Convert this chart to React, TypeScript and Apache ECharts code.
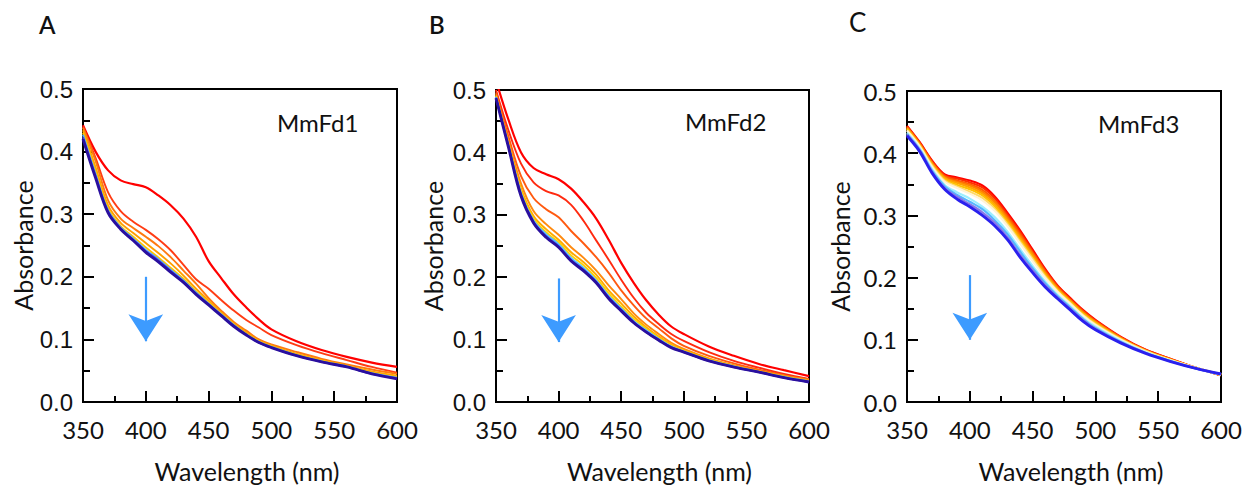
import React, { useEffect, useRef } from "react";
import * as echarts from "echarts";

const wavelengths = [350, 360, 370, 380, 390, 400, 410, 420, 430, 440, 450, 460, 470, 480, 490, 500, 520, 540, 560, 580, 600];

const panelLetters = ["A", "B", "C"];
const sampleNames = ["MmFd1", "MmFd2", "MmFd3"];
const xTickValues = [350, 400, 450, 500, 550, 600];
const yTickValues = [0.0, 0.1, 0.2, 0.3, 0.4, 0.5];

// Panel A (MmFd1)
const aColors = ["#ff0000", "#ff3c14", "#ff7a10", "#ffa000", "#ffc400", "#4aa8ff", "#4b3fd9", "#2a0f9e"];
const aRed = [0.442, 0.4, 0.37, 0.354, 0.348, 0.343, 0.33, 0.314, 0.293, 0.264, 0.225, 0.198, 0.172, 0.151, 0.132, 0.116, 0.097, 0.083, 0.072, 0.063, 0.056];
const aOrangeRed = [0.44, 0.39, 0.335, 0.305, 0.288, 0.275, 0.26, 0.242, 0.219, 0.196, 0.181, 0.163, 0.146, 0.131, 0.119, 0.107, 0.091, 0.078, 0.067, 0.056, 0.047];
const aOrange = [0.438, 0.385, 0.322, 0.293, 0.278, 0.264, 0.249, 0.231, 0.21, 0.189, 0.166, 0.146, 0.128, 0.114, 0.1, 0.092, 0.08, 0.069, 0.06, 0.052, 0.045];
const aLightOrange = [0.434, 0.375, 0.314, 0.286, 0.27, 0.254, 0.238, 0.221, 0.202, 0.181, 0.162, 0.143, 0.126, 0.111, 0.098, 0.09, 0.077, 0.067, 0.058, 0.049, 0.042];
const aGold = [0.43, 0.368, 0.309, 0.281, 0.264, 0.247, 0.231, 0.214, 0.197, 0.177, 0.159, 0.141, 0.124, 0.109, 0.097, 0.089, 0.076, 0.066, 0.057, 0.047, 0.04];
const aSky = [0.427, 0.364, 0.306, 0.279, 0.261, 0.243, 0.228, 0.211, 0.194, 0.175, 0.157, 0.14, 0.123, 0.108, 0.096, 0.088, 0.075, 0.065, 0.057, 0.046, 0.039];
const aPurple = [0.423, 0.361, 0.304, 0.277, 0.259, 0.241, 0.226, 0.209, 0.192, 0.173, 0.156, 0.139, 0.122, 0.107, 0.095, 0.087, 0.074, 0.064, 0.056, 0.045, 0.038];
const aNavy = [0.42, 0.358, 0.302, 0.276, 0.258, 0.239, 0.224, 0.207, 0.191, 0.172, 0.155, 0.138, 0.121, 0.107, 0.095, 0.087, 0.074, 0.064, 0.056, 0.045, 0.037];

// Panel B (MmFd2)
const bColors = ["#ff0000", "#ff2a10", "#ff5a10", "#ff8a10", "#ffaa00", "#ffd000", "#58c0ff", "#3a6cff", "#5a2fd0", "#2a0f9e"];
const bRed = [0.515, 0.452, 0.4, 0.375, 0.365, 0.357, 0.342, 0.32, 0.294, 0.26, 0.223, 0.191, 0.163, 0.14, 0.121, 0.109, 0.089, 0.074, 0.061, 0.051, 0.0415];
const bRedOrange = [0.5, 0.435, 0.382, 0.352, 0.338, 0.331, 0.316, 0.29, 0.259, 0.228, 0.196, 0.167, 0.143, 0.125, 0.109, 0.098, 0.08, 0.066, 0.055, 0.045, 0.037];
const bOrangeRed = [0.496, 0.425, 0.362, 0.327, 0.309, 0.296, 0.274, 0.254, 0.232, 0.207, 0.179, 0.155, 0.134, 0.118, 0.102, 0.09, 0.074, 0.062, 0.052, 0.043, 0.036];
const bOrange = [0.493, 0.418, 0.35, 0.306, 0.285, 0.268, 0.248, 0.231, 0.211, 0.187, 0.165, 0.142, 0.124, 0.109, 0.095, 0.085, 0.07, 0.059, 0.05, 0.042, 0.035];
const bLightOrange = [0.491, 0.414, 0.342, 0.298, 0.277, 0.26, 0.24, 0.224, 0.204, 0.179, 0.158, 0.137, 0.12, 0.105, 0.092, 0.083, 0.069, 0.058, 0.049, 0.041, 0.034];
const bGold = [0.49, 0.412, 0.338, 0.294, 0.272, 0.256, 0.235, 0.219, 0.199, 0.174, 0.153, 0.133, 0.117, 0.103, 0.09, 0.082, 0.068, 0.057, 0.049, 0.04, 0.033];
const bLightBlue = [0.489, 0.411, 0.335, 0.291, 0.269, 0.253, 0.231, 0.215, 0.195, 0.17, 0.15, 0.13, 0.115, 0.101, 0.089, 0.081, 0.067, 0.057, 0.048, 0.04, 0.033];
const bBlue = [0.488, 0.41, 0.333, 0.289, 0.266, 0.25, 0.228, 0.212, 0.193, 0.168, 0.148, 0.128, 0.113, 0.1, 0.088, 0.08, 0.066, 0.056, 0.048, 0.039, 0.032];
const bPurple = [0.487, 0.409, 0.331, 0.288, 0.265, 0.249, 0.227, 0.211, 0.192, 0.167, 0.147, 0.128, 0.112, 0.099, 0.088, 0.08, 0.066, 0.056, 0.048, 0.039, 0.032];
const bNavy = [0.487, 0.408, 0.33, 0.287, 0.264, 0.248, 0.226, 0.21, 0.191, 0.166, 0.146, 0.127, 0.112, 0.099, 0.087, 0.08, 0.066, 0.056, 0.048, 0.039, 0.032];

// Panel C (MmFd3)
const cColors = ["#ff0000", "#ff2d00", "#ff5a00", "#ff7d00", "#ffa000", "#ffbf00", "#ffd966", "#fff3d6", "#9ceeff", "#55b8ff", "#8878e8", "#2a20ee"];
const cRed = [0.444, 0.418, 0.388, 0.366, 0.361, 0.356, 0.348, 0.33, 0.304, 0.276, 0.245, 0.214, 0.187, 0.167, 0.148, 0.132, 0.105, 0.084, 0.069, 0.055, 0.043];
const c2 = [0.443, 0.417, 0.387, 0.364, 0.359, 0.353, 0.345, 0.327, 0.301, 0.273, 0.242, 0.212, 0.186, 0.166, 0.147, 0.131, 0.104, 0.084, 0.069, 0.055, 0.043];
const c3 = [0.442, 0.416, 0.385, 0.363, 0.356, 0.35, 0.341, 0.323, 0.298, 0.27, 0.24, 0.21, 0.184, 0.164, 0.146, 0.13, 0.104, 0.083, 0.068, 0.055, 0.043];
const c4 = [0.441, 0.415, 0.384, 0.361, 0.354, 0.348, 0.338, 0.321, 0.295, 0.267, 0.238, 0.208, 0.183, 0.163, 0.144, 0.129, 0.103, 0.083, 0.068, 0.055, 0.043];
const c5 = [0.44, 0.414, 0.383, 0.36, 0.352, 0.345, 0.335, 0.317, 0.292, 0.264, 0.235, 0.206, 0.181, 0.162, 0.143, 0.128, 0.102, 0.082, 0.068, 0.055, 0.044];
const c6 = [0.439, 0.413, 0.381, 0.358, 0.349, 0.342, 0.332, 0.314, 0.289, 0.261, 0.232, 0.204, 0.18, 0.161, 0.142, 0.127, 0.102, 0.082, 0.068, 0.055, 0.044];
const c7 = [0.437, 0.412, 0.38, 0.356, 0.346, 0.338, 0.328, 0.31, 0.286, 0.258, 0.23, 0.202, 0.178, 0.159, 0.14, 0.125, 0.101, 0.082, 0.067, 0.055, 0.044];
const c8 = [0.436, 0.411, 0.378, 0.354, 0.344, 0.335, 0.324, 0.307, 0.283, 0.255, 0.227, 0.2, 0.177, 0.158, 0.139, 0.124, 0.1, 0.081, 0.067, 0.055, 0.044];
const c9 = [0.433, 0.408, 0.374, 0.349, 0.337, 0.327, 0.314, 0.297, 0.274, 0.246, 0.219, 0.194, 0.172, 0.154, 0.135, 0.121, 0.098, 0.08, 0.066, 0.054, 0.044];
const c10 = [0.431, 0.406, 0.372, 0.347, 0.333, 0.322, 0.31, 0.292, 0.27, 0.242, 0.215, 0.191, 0.17, 0.152, 0.134, 0.119, 0.097, 0.079, 0.066, 0.054, 0.045];
const c11 = [0.43, 0.405, 0.37, 0.344, 0.33, 0.318, 0.305, 0.288, 0.265, 0.237, 0.212, 0.188, 0.168, 0.15, 0.132, 0.118, 0.096, 0.079, 0.065, 0.054, 0.045];
const cBlue = [0.428, 0.403, 0.368, 0.342, 0.326, 0.314, 0.3, 0.283, 0.261, 0.233, 0.208, 0.185, 0.166, 0.148, 0.13, 0.116, 0.095, 0.078, 0.065, 0.054, 0.045];

// Arrow annotations: [wavelength, start absorbance, end absorbance]
const arrowA = [400, 0.2, 0.097];
const arrowB = [400, 0.198, 0.096];
const arrowC = [400, 0.204, 0.1];

const panels = [
  { curves: [aRed, aOrangeRed, aOrange, aLightOrange, aGold, aSky, aPurple, aNavy], colors: aColors, arrow: arrowA, width: 1.9 },
  { curves: [bRed, bRedOrange, bOrangeRed, bOrange, bLightOrange, bGold, bLightBlue, bBlue, bPurple, bNavy], colors: bColors, arrow: arrowB, width: 1.9 },
  { curves: [cRed, c2, c3, c4, c5, c6, c7, c8, c9, c10, c11, cBlue], colors: cColors, arrow: arrowC, width: 2.1 },
];

const AV = "Lato, 'Noto Sans', sans-serif";
const HV = "'Liberation Sans', Arial, sans-serif";

const grids = [
  { left: 83, top: 89, width: 314, height: 314 },
  { left: 496, top: 90, width: 313, height: 313 },
  { left: 907, top: 91, width: 314, height: 314 },
];
const yNameGaps = [47, 51, 55];
const yLabelFonts = [HV, HV, AV];
const letterPos = [
  { left: 39, top: 12, size: 24, weight: 600 },
  { left: 429, top: 12, size: 24, weight: 600 },
  { left: 849, top: 9, size: 26, weight: 400 },
];
const namePos = [
  { left: 277, top: 110 },
  { left: 685, top: 109 },
  { left: 1098, top: 111 },
];

export default function App() {
  const ref = useRef<HTMLDivElement>(null);
  useEffect(() => {
    document.body.style.margin = "0";
    const chart = echarts.init(ref.current!, null, { renderer: "svg" });
    const series: any[] = [];
    panels.forEach((p, i) => {
      p.curves.forEach((vals, j) => {
        const last = j === p.curves.length - 1;
        const s: any = {
          type: "line",
          xAxisIndex: i,
          yAxisIndex: i,
          data: wavelengths.map((w, k) => [w, vals[k]]),
          smooth: 0.35,
          showSymbol: false,
          silent: true,
          clip: true,
          lineStyle: { color: p.colors[j], width: last ? 2.9 : j === 0 ? 2.2 : p.width },
          z: 2,
        };
        if (last) {
          s.markLine = {
            silent: true,
            symbol: ["none", "arrow"],
            symbolSize: [26, 27],
            label: { show: false },
            lineStyle: { color: "#3d9bff", width: 2.2, type: "solid" },
            data: [[{ coord: [p.arrow[0], p.arrow[1]] }, { coord: [p.arrow[0], p.arrow[2]] }]],
          };
        }
        series.push(s);
      });
    });

    const option: any = {
      animation: false,
      backgroundColor: "#fff",
      title: [
        ...panelLetters.map((t, i) => ({
          text: t,
          left: letterPos[i].left,
          top: letterPos[i].top,
          padding: 0,
          textStyle: { fontSize: letterPos[i].size, fontWeight: letterPos[i].weight, fontFamily: AV, color: "#111" },
        })),
        ...sampleNames.map((t, i) => ({
          text: t,
          left: namePos[i].left,
          top: namePos[i].top,
          padding: 0,
          textStyle: { fontSize: 24, fontWeight: "normal", fontFamily: AV, color: "#111" },
        })),
      ],
      grid: grids.map((g) => ({ ...g, show: true, borderColor: "#000", borderWidth: 2, backgroundColor: "transparent" })),
      xAxis: grids.map((_, i) => ({
        type: "value",
        gridIndex: i,
        min: xTickValues[0],
        max: xTickValues[xTickValues.length - 1],
        interval: 50,
        name: "Wavelength (nm)",
        nameLocation: "middle",
        nameGap: 56,
        nameTextStyle: { fontSize: 25, fontFamily: AV, color: "#111", padding: [0, 0, 0, 14] },
        axisLine: { show: true, lineStyle: { color: "#000", width: 2 } },
        axisTick: { show: true, inside: true, length: 11, lineStyle: { color: "#000", width: 2 } },
        minorTick: { show: true, splitNumber: 2, length: 6, lineStyle: { color: "#000", width: 2 } },
        splitLine: { show: false },
        axisLabel: { fontSize: 24, fontFamily: AV, color: "#111", margin: 15 },
      })),
      yAxis: grids.map((_, i) => ({
        type: "value",
        gridIndex: i,
        min: yTickValues[0],
        max: yTickValues[yTickValues.length - 1],
        interval: 0.1,
        name: "Absorbance",
        nameLocation: "middle",
        nameGap: yNameGaps[i],
        nameTextStyle: { fontSize: 25, fontFamily: AV, color: "#111" },
        axisLine: { show: true, lineStyle: { color: "#000", width: 2 } },
        axisTick: { show: true, inside: true, length: 11, lineStyle: { color: "#000", width: 2 } },
        minorTick: { show: true, splitNumber: 2, length: 7, lineStyle: { color: "#000", width: 2 } },
        splitLine: { show: false },
        axisLabel: {
          fontSize: 24,
          fontFamily: yLabelFonts[i],
          color: "#111",
          margin: 10,
          formatter: (v: number) => v.toFixed(1),
        },
      })),
      series,
    };
    chart.setOption(option);
    return () => chart.dispose();
  }, []);
  return <div ref={ref} style={{ width: 1245, height: 488 }} />;
}
